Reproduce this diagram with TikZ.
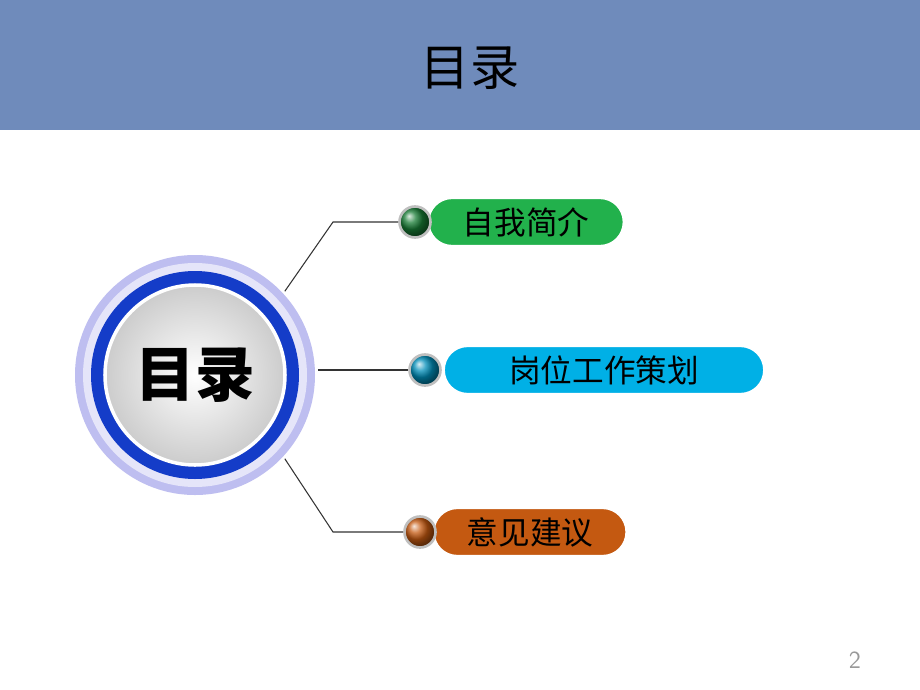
\documentclass[tikz,border=0pt]{standalone}
\usepackage{fontspec}
\newfontfamily\cjk{Noto Sans CJK SC}
\definecolor{band}{RGB}{111,139,187}
\definecolor{pgreen}{RGB}{34,177,76}
\definecolor{pcyan}{RGB}{0,176,230}
\definecolor{porange}{RGB}{196,89,17}
\definecolor{lav}{RGB}{190,190,240}
\definecolor{ringblue}{RGB}{20,60,200}
\tikzset{
  pill/.style={rectangle, rounded corners=0.47cm, minimum height=0.95cm, font=\cjk\fontsize{18}{20}\selectfont, text=black, draw=white, line width=1pt},
  ball/.style={circle, minimum size=0.62cm, draw=gray!50, line width=1.5pt},
  conn/.style={draw=black!80, line width=0.6pt}
}
\begin{document}
\begin{tikzpicture}[x=0.02cm,y=-0.02cm]
\useasboundingbox (0,0) rectangle (920,690);
\fill[white] (0,0) rectangle (920,690);
\fill[band] (0,0) rectangle (920,130);
\node (title) at (470,68) {\cjk\fontsize{28}{30}\selectfont 目录};
% central circle
\fill[lav] (195,375) circle (120);
\fill[white!60!lav] (195,375) circle (112);
\fill[ringblue] (195,375) circle (104);
\shade[inner color=white, outer color=gray!40] (195,375) circle (90);
\draw[white, line width=2pt] (195,375) circle (90);
\node[circle, minimum size=4.9cm, inner sep=0pt] (c) at (195,375) {\cjk\bfseries\fontsize{34}{36}\selectfont 目录};
% pills
\node[pill, fill=pgreen, minimum width=3.9cm] (p1) at (526,222) {自我简介};
\node[pill, fill=pcyan, minimum width=6.4cm] (p2) at (604,370) {岗位工作策划};
\node[pill, fill=porange, minimum width=3.85cm] (p3) at (530,532) {意见建议};
\node[ball, ball color=pgreen!70!black] (b1) at (415,222) {};
\node[ball, ball color=pcyan!80!black] (b2) at (425,370) {};
\node[ball, ball color=porange] (b3) at (420,532) {};
% connectors
\coordinate (k1) at (333,222);
\coordinate (k3) at (333,532);
\draw[conn] (c.43) -- (k1) -- (b1.west);
\draw[conn] (c.east |- b2) -- (b2.west);
\draw[conn] (c.-43) -- (k3) -- (b3.west);
\node[text=gray!80] (pg) at (855,660) {\sffamily\fontsize{14}{16}\selectfont 2};
\end{tikzpicture}
\end{document}
